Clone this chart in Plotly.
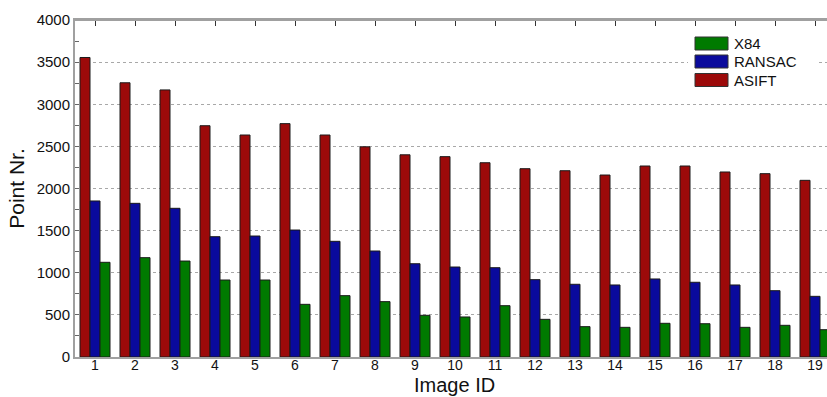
import plotly.graph_objects as go

# Image IDs on the x axis
image_ids = list(range(1, 20))

# Matched point counts per method
asift = [3555, 3255, 3170, 2745, 2635, 2770, 2635, 2495, 2400, 2378,
         2306, 2235, 2211, 2160, 2267, 2267, 2196, 2176, 2097]
ransac = [1852, 1824, 1765, 1428, 1436, 1507, 1373, 1258, 1107, 1068,
          1060, 918, 863, 855, 926, 887, 855, 787, 720]
x84 = [1124, 1179, 1139, 914, 914, 625, 728, 657, 495, 475,
       609, 447, 360, 352, 400, 395, 352, 376, 324]

series_names = ["ASIFT", "RANSAC", "X84"]
series_values = [asift, ransac, x84]
series_colors = ["#9c0a0a", "#0a0a9c", "#007a00"]

FONT = "Liberation Sans, Arial, Helvetica, sans-serif"
W, H = 827, 397
L, R, T, B = 75, 0, 20, 40

fig = go.Figure()
for name, vals, col in zip(series_names, series_values, series_colors):
    fig.add_trace(go.Bar(
        x=image_ids, y=vals, name=name,
        marker=dict(color=col, line=dict(color="#1a1a1a", width=1)),
        showlegend=False,
    ))

# Hand-built legend (wide swatches), top-right inside the axes
pw, ph = W - L - R, H - T - B


def px_x(v):
    return (v - L) / pw


def px_y(v):
    return (H - B - v) / ph


shapes = [
    dict(type="rect", xref="paper", yref="paper",
         x0=px_x(688), x1=px_x(818), y0=px_y(92), y1=px_y(31),
         fillcolor="white", line=dict(width=0), layer="above"),
    # top frame line
    dict(type="line", xref="paper", yref="paper", x0=0, x1=1, y0=1, y1=1,
         line=dict(color="#a0a0a0", width=2), layer="above"),
]
annotations = []
legend_rows = [("X84", "#007a00", 43.5), ("RANSAC", "#0a0a9c", 61.5), ("ASIFT", "#9c0a0a", 80)]
for label, col, yc in legend_rows:
    shapes.append(dict(type="rect", xref="paper", yref="paper",
                       x0=px_x(695), x1=px_x(728), y0=px_y(yc + 6.5), y1=px_y(yc - 6.5),
                       fillcolor=col, line=dict(color="#333333", width=1), layer="above"))
    annotations.append(dict(xref="paper", yref="paper", x=px_x(732), y=px_y(yc),
                            xanchor="left", yanchor="middle", text=label, showarrow=False,
                            font=dict(family=FONT, size=15, color="#111111")))

# x axis title, placed just under the tick labels
annotations.append(dict(xref="paper", yref="paper", x=px_x(454), y=px_y(396.5),
                        xanchor="center", yanchor="bottom", text="Image ID", showarrow=False,
                        borderpad=0, font=dict(family=FONT, size=20, color="#111111")))

fig.update_layout(
    width=W, height=H,
    margin=dict(l=L, r=R, t=T, b=B, pad=0),
    paper_bgcolor="white", plot_bgcolor="white",
    barmode="group", bargap=0.25, bargroupgap=0,
    font=dict(family=FONT, size=15, color="#111111"),
    shapes=shapes, annotations=annotations,
    showlegend=False,
)

fig.update_xaxes(
    range=[0.5, 19.3], tickmode="array", tickvals=image_ids,
    ticktext=[str(i) for i in image_ids],
    showline=True, linecolor="#a0a0a0", linewidth=2, mirror="ticks",
    ticks="inside", ticklen=6, tickcolor="#333333", tickwidth=1,
    showgrid=False, zeroline=False, layer="below traces",
    tickfont=dict(size=14), ticklabelstandoff=-6,
)
fig.update_yaxes(
    range=[0, 4000], tickmode="linear", tick0=0, dtick=500,
    showline=True, linecolor="#a0a0a0", linewidth=2, mirror=False,
    ticks="inside", ticklen=4, tickcolor="#666666",
    minor=dict(dtick=250, ticks="inside", ticklen=4, tickcolor="#666666", showgrid=False),
    showgrid=True, gridcolor="#a8a8a8", griddash="dot", gridwidth=1,
    zeroline=False, layer="below traces",
    tickfont=dict(size=15),
    title=dict(text="Point Nr.", font=dict(size=21), standoff=6),
)

fig.write_html("out.html")
